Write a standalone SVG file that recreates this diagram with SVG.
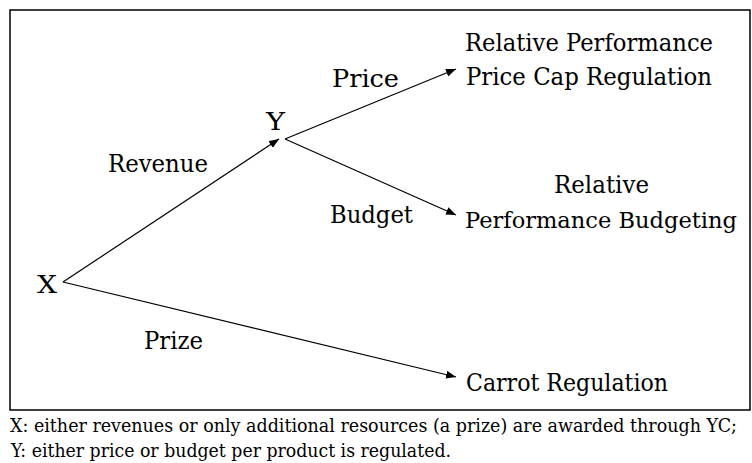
<svg xmlns="http://www.w3.org/2000/svg" width="752" height="463" viewBox="0 0 752 463">
  <style>
    .lbl { font-family: "DejaVu Serif", serif; font-size: 24px; fill: #000; }
    .lbl-sm { font-family: "DejaVu Serif", serif; font-size: 23px; fill: #000; }
    .note { font-family: "DejaVu Serif", serif; font-size: 19px; fill: #000; }
    .edge { stroke: #000; stroke-width: 1.2; fill: none; }
  </style>
  <defs>
    <marker id="arrow" viewBox="0 0 10 8" refX="10" refY="4" markerWidth="10" markerHeight="8" markerUnits="userSpaceOnUse" orient="auto">
      <path d="M0,0 L10,4 L0,8 Z" fill="#000"/>
    </marker>
  </defs>

  <!-- outer frame -->
  <rect x="10" y="10" width="740" height="400" fill="#fff" stroke="#000" stroke-width="1.5"/>

  <g id="connectors">
    <path class="edge" d="M63,282 L279,139" marker-end="url(#arrow)"/>
    <path class="edge" d="M63,282 L456,377" marker-end="url(#arrow)"/>
    <path class="edge" d="M285,139 L456,69" marker-end="url(#arrow)"/>
    <path class="edge" d="M285,139 L456,215" marker-end="url(#arrow)"/>
    <text class="lbl" x="108" y="172" textLength="100" lengthAdjust="spacingAndGlyphs">Revenue</text>
    <text class="lbl" x="144" y="349" textLength="59" lengthAdjust="spacingAndGlyphs">Prize</text>
    <text class="lbl" x="332" y="87" textLength="67" lengthAdjust="spacingAndGlyphs">Price</text>
    <text class="lbl" x="330" y="223" textLength="83" lengthAdjust="spacingAndGlyphs">Budget</text>
  </g>

  <g id="node-x">
    <text class="lbl" x="37" y="293" textLength="20" lengthAdjust="spacingAndGlyphs">X</text>
  </g>
  <g id="node-y">
    <text class="lbl" x="266" y="130" textLength="19" lengthAdjust="spacingAndGlyphs">Y</text>
  </g>
  <g id="node-price-cap">
    <text class="lbl" x="465" y="51" textLength="248" lengthAdjust="spacingAndGlyphs">Relative Performance</text>
    <text class="lbl" x="466" y="85" textLength="246" lengthAdjust="spacingAndGlyphs">Price Cap Regulation</text>
  </g>
  <g id="node-budgeting">
    <text class="lbl" x="554" y="193" textLength="95" lengthAdjust="spacingAndGlyphs">Relative</text>
    <text class="lbl-sm" x="465" y="228" textLength="272" lengthAdjust="spacingAndGlyphs">Performance Budgeting</text>
  </g>
  <g id="node-carrot">
    <text class="lbl" x="466" y="391" textLength="202" lengthAdjust="spacingAndGlyphs">Carrot Regulation</text>
  </g>

  <!-- key below the frame (first line condensed horizontally to fit the width) -->
  <text class="note" transform="scale(0.9,1)" x="11.11" y="432" textLength="807.8" lengthAdjust="spacingAndGlyphs">X: either revenues or only additional resources (a prize) are awarded through YC;</text>
  <text class="note" x="11" y="457" textLength="440" lengthAdjust="spacingAndGlyphs">Y: either price or budget per product is regulated.</text>
</svg>
